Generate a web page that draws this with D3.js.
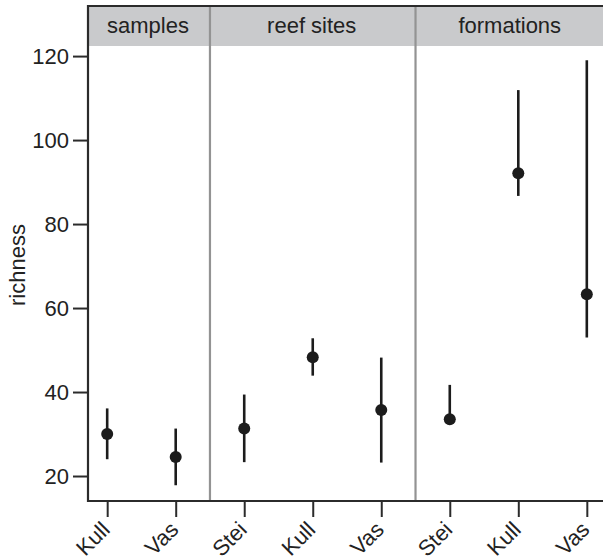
<!DOCTYPE html>
<html>
<head>
<meta charset="utf-8">
<script src="https://cdn.jsdelivr.net/npm/d3@7"></script>
<style>
  body { margin: 0; background: #fff; }
  text { font-family: "Liberation Sans", Arial, sans-serif; fill: #222; }
</style>
</head>
<body>
<div id="chart"></div>
<script>
// panels and their categories
const panels = ["samples", "reef sites", "formations"];
const panelCats = [["Kull", "Vas"], ["Stei", "Kull", "Vas"], ["Stei", "Kull", "Vas"]];

// richness estimate with interval, one entry per category (same order as panelCats)
const richness = [30.0, 24.5, 31.3, 48.3, 35.7, 33.5, 92.1, 63.3];
const lower    = [24.0, 17.8, 23.3, 43.9, 23.2, 33.0, 86.7, 53.0];
const upper    = [36.1, 31.3, 39.4, 52.8, 48.2, 41.7, 111.9, 119.0];

const yTicks = [20, 40, 60, 80, 100, 120];

let width = 603, height = 560;
let stripTop = 6, stripBottom = 46, plotBottom = 501;
let fontSize = "22px";

// flatten into rows
let rows = [];
panelCats.forEach((cats, p) => {
    cats.forEach((c) => {
        rows.push({panel: p, cat: c, key: panels[p] + "|" + c});
    });
});
rows.forEach((d, i) => {
    d.est = richness[i];
    d.lo = lower[i];
    d.hi = upper[i];
});

let svg = d3.select("#chart").append("svg")
    .attr("width", width)
    .attr("height", height);

let xScale = d3.scalePoint()
    .domain(rows.map(d => d.key))
    .range([88, 606])
    .padding(0.28);

let yScale = d3.scaleLinear()
    .domain([14.05, 122.4])
    .range([plotBottom, stripBottom]);

let step = xScale.step();

//Panel edges
let edges = panels.map((p, i) => {
    let keys = rows.filter(d => d.panel == i).map(d => d.key);
    return {
        name: p,
        x0: xScale(keys[0]) - step / 2,
        x1: xScale(keys[keys.length - 1]) + step / 2
    };
});
edges[0].x0 = 88;
edges[edges.length - 1].x1 = 606;

//Strip backgrounds and labels
svg.selectAll(".strip")
    .data(edges)
    .enter().append("rect")
    .attr("x", d => d.x0)
    .attr("y", stripTop)
    .attr("width", d => d.x1 - d.x0)
    .attr("height", stripBottom - stripTop)
    .attr("fill", "#c9cacc");

svg.selectAll(".stripLabel")
    .data(edges)
    .enter().append("text")
    .attr("x", d => (d.x0 + d.x1) / 2 - 1)
    .attr("y", 33)
    .attr("text-anchor", "middle")
    .style("font-size", fontSize)
    .text(d => d.name);

//Panel dividers
svg.selectAll(".divider")
    .data(edges.slice(1))
    .enter().append("line")
    .attr("x1", d => d.x0)
    .attr("x2", d => d.x0)
    .attr("y1", stripTop)
    .attr("y2", plotBottom)
    .attr("stroke", "#939393")
    .attr("stroke-width", 2.2);

//Frame: top line
svg.append("line")
    .attr("x1", 88).attr("x2", 610)
    .attr("y1", stripTop).attr("y2", stripTop)
    .attr("stroke", "#2b2b2b").attr("stroke-width", 2);

//Add the y Axis
let yAxis = svg.append("g")
    .attr("transform", "translate(88,0)")
    .call(d3.axisLeft(yScale).tickValues(yTicks).tickSize(15).tickPadding(4));
yAxis.select(".domain").remove();
yAxis.selectAll(".tick line").attr("stroke", "#2b2b2b").attr("stroke-width", 2);
yAxis.selectAll(".tick text")
    .style("font-size", fontSize)
    .style("font-family", "Liberation Sans, Arial, sans-serif")
    .attr("fill", "#222");

svg.append("line")
    .attr("x1", 88).attr("x2", 88)
    .attr("y1", stripTop - 1).attr("y2", plotBottom + 1)
    .attr("stroke", "#2b2b2b").attr("stroke-width", 2.2);

svg.append("text")
    .attr("transform", "rotate(-90)")
    .attr("x", -265)
    .attr("y", 25)
    .attr("text-anchor", "middle")
    .style("font-size", fontSize)
    .text("richness");

//Add the x Axis
let xAxis = svg.append("g")
    .attr("transform", "translate(0," + plotBottom + ")")
    .call(d3.axisBottom(xScale).tickSize(16).tickFormat(""));
xAxis.select(".domain").remove();
xAxis.selectAll(".tick line").attr("stroke", "#2b2b2b").attr("stroke-width", 2);

svg.append("line")
    .attr("x1", 87).attr("x2", 610)
    .attr("y1", plotBottom).attr("y2", plotBottom)
    .attr("stroke", "#2b2b2b").attr("stroke-width", 2.2);

svg.selectAll(".xLabel")
    .data(rows)
    .enter().append("text")
    .attr("transform", d => "translate(" + (xScale(d.key) + 4) + "," + 531 + ") rotate(-45)")
    .attr("text-anchor", "end")
    .style("font-size", fontSize)
    .text(d => d.cat);

//Error bars
svg.selectAll(".bar")
    .data(rows)
    .enter().append("line")
    .attr("x1", d => xScale(d.key))
    .attr("x2", d => xScale(d.key))
    .attr("y1", d => yScale(d.lo))
    .attr("y2", d => yScale(d.hi))
    .attr("stroke", "#1c1c1c")
    .attr("stroke-width", 2.6);

//Points
svg.selectAll(".pt")
    .data(rows)
    .enter().append("circle")
    .attr("cx", d => xScale(d.key))
    .attr("cy", d => yScale(d.est))
    .attr("r", 6)
    .attr("fill", "#1c1c1c");
</script>
</body>
</html>
